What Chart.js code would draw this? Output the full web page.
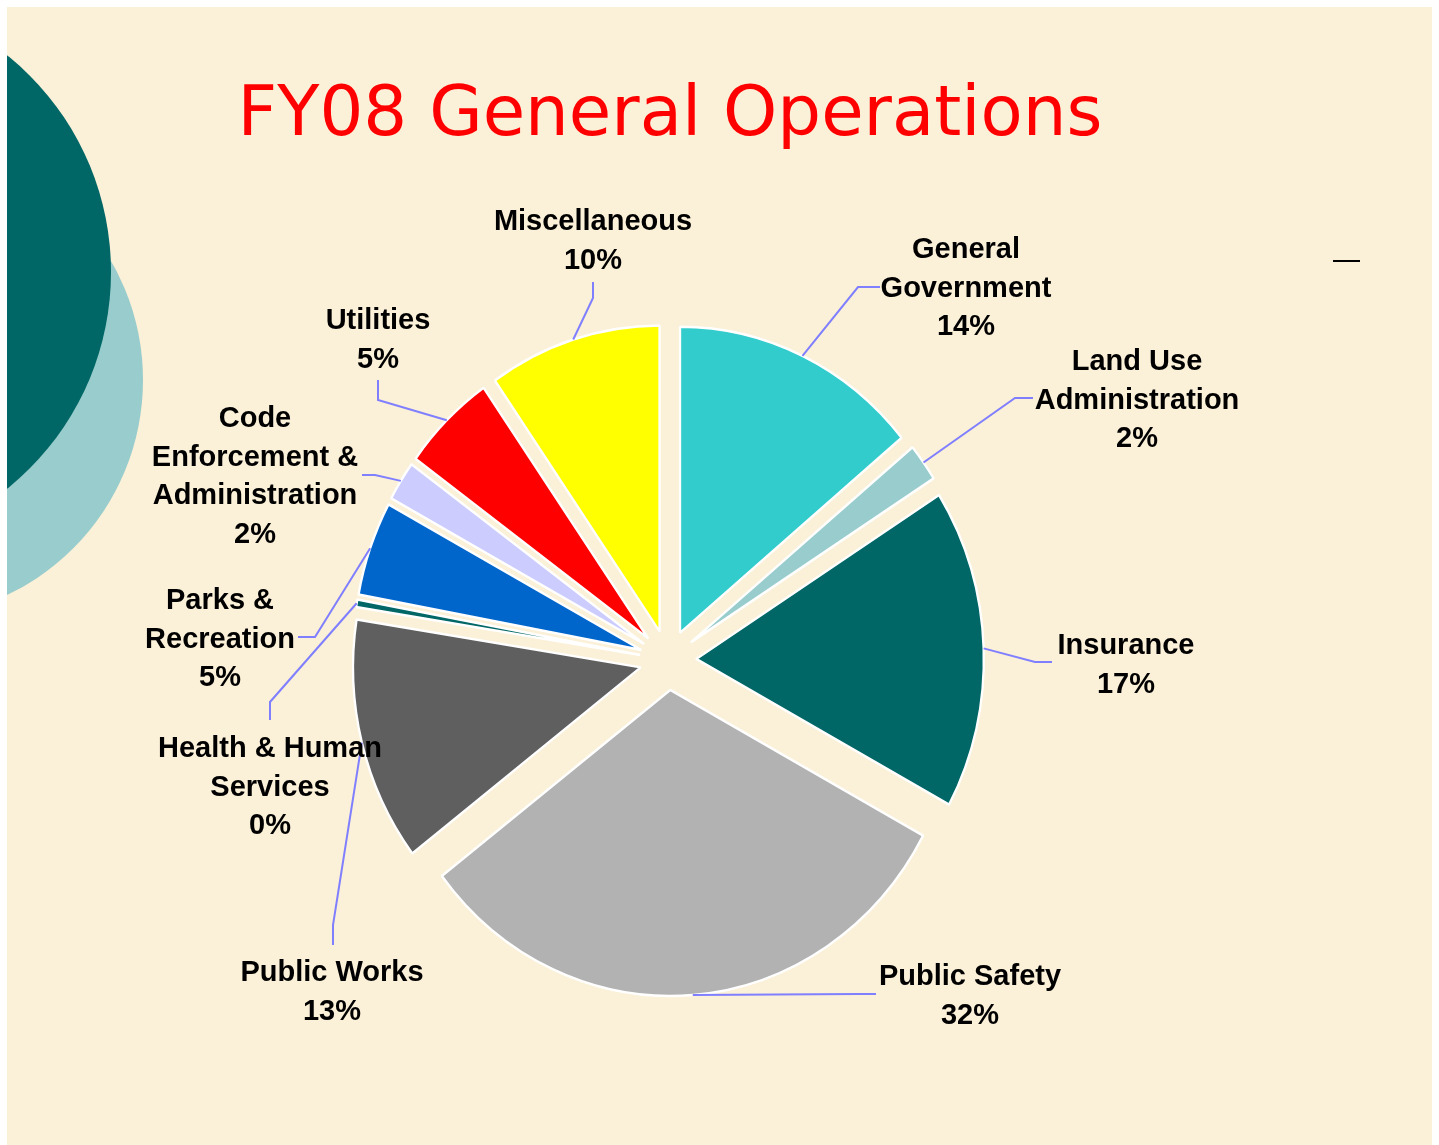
<!DOCTYPE html>
<html>
<head>
<meta charset="utf-8">
<title>FY08 General Operations</title>
<script src="https://cdn.jsdelivr.net/npm/chart.js@4.4.1/dist/chart.umd.min.js"></script>
<style>
  html, body { margin: 0; padding: 0; background: #fff; }
  body { width: 1439px; height: 1145px; position: relative; overflow: hidden; }
  #slide { position: absolute; left: 7px; top: 7px; width: 1425px; height: 1138px; background: #fbf0d8; overflow: hidden; }
  .blob { position: absolute; border-radius: 50%; }
  #lightBlob { background: #99cccc; left: -340px; top: 135px; width: 476px; height: 476px; }
  #darkBlob { background: #006666; left: -452px; top: -13px; width: 556px; height: 556px; }
  #title { position: absolute; left: 0; width: 1340px; top: 77px; text-align: center; font: 69px/69px "DejaVu Sans", Verdana, sans-serif; color: #ff0000; white-space: nowrap; }
  #dash { position: absolute; left: 1333px; top: 260px; width: 27px; height: 2px; background: #000; }
  #chart { position: absolute; left: 0; top: 0; }
</style>
</head>
<body>
<div id="slide">
  <div class="blob" id="lightBlob"></div>
  <div class="blob" id="darkBlob"></div>
</div>
<div id="title">FY08 General Operations</div>
<div id="dash"></div>
<canvas id="chart" width="1439" height="1145"></canvas>
<script>
// slices, clockwise from 12 o'clock
const categories = ['General Government', 'Land Use Administration', 'Insurance', 'Public Safety', 'Public Works',
  'Health & Human Services', 'Parks & Recreation', 'Code Enforcement & Administration', 'Utilities', 'Miscellaneous'];
const shares = [14.0, 2.0, 16.9, 31.7, 12.9, 0.4, 5.0, 2.1, 5.3, 9.7];
const labelLines = [['General', 'Government'], ['Land Use', 'Administration'], ['Insurance'], ['Public Safety'], ['Public Works'],
  ['Health & Human', 'Services'], ['Parks &', 'Recreation'], ['Code', 'Enforcement &', 'Administration'], ['Utilities'], ['Miscellaneous']];
const colors = ['#33cccc', '#99cccc', '#006666', '#b2b2b2', '#5f5f5f', '#006666', '#0066cc', '#ccccff', '#ff0000', '#ffff00'];

// callout layout: text centre x, first line centre y, leader elbow and end
const calloutLayout = [
  { x: 966, y: 248, elbow: [858, 287], end: [880, 287] },
  { x: 1137, y: 360, elbow: [1015, 398], end: [1033, 398] },
  { x: 1126, y: 644, elbow: [1035, 662], end: [1052, 662] },
  { x: 970, y: 975, elbow: [858, 994], end: [876, 994] },
  { x: 332, y: 971, elbow: [333, 925], end: [333, 945] },
  { x: 270, y: 747, elbow: [270, 702], end: [270, 720] },
  { x: 220, y: 599, elbow: [315, 637], end: [298, 637] },
  { x: 255, y: 417, elbow: [375, 475], end: [362, 475] },
  { x: 378, y: 319, elbow: [378, 400], end: [378, 380] },
  { x: 593, y: 220, elbow: [593, 298], end: [593, 282] }
];
const LINE_H = 38.5;
const SQUASH = 0.94;   // pie is a bit narrower than tall
const EXPLODE = 30;

function pieCentre(chart) {
  const a = chart.chartArea;
  return [(a.left + a.right) / 2, (a.top + a.bottom) / 2];
}

const explodePlugin = {
  id: 'explodePie',
  afterDatasetsUpdate(chart) {
    chart.getDatasetMeta(0).data.forEach(arc => {
      const mid = (arc.startAngle + arc.endAngle) / 2;
      arc.x += Math.cos(mid) * EXPLODE;
      arc.y += Math.sin(mid) * EXPLODE;
    });
  },
  beforeDatasetsDraw(chart) {
    const ctx = chart.ctx;
    const [cx, cy] = pieCentre(chart);
    ctx.save();
    ctx.translate(cx, cy);
    ctx.scale(SQUASH, 1);
    ctx.translate(-cx, -cy);
  },
  afterDatasetsDraw(chart) {
    chart.ctx.restore();
  }
};

const calloutPlugin = {
  id: 'callouts',
  afterDraw(chart) {
    const ctx = chart.ctx;
    const [cx] = pieCentre(chart);
    const total = shares.reduce((s, v) => s + v, 0);
    const arcs = chart.getDatasetMeta(0).data;
    ctx.save();
    ctx.lineWidth = 2;
    ctx.strokeStyle = '#7f7fff';
    arcs.forEach((arc, i) => {
      const L = calloutLayout[i];
      const mid = (arc.startAngle + arc.endAngle) / 2;
      const px = cx + (arc.x + Math.cos(mid) * arc.outerRadius - cx) * SQUASH;
      const py = arc.y + Math.sin(mid) * arc.outerRadius;
      ctx.beginPath();
      ctx.moveTo(px, py);
      ctx.lineTo(L.elbow[0], L.elbow[1]);
      ctx.lineTo(L.end[0], L.end[1]);
      ctx.stroke();
    });
    ctx.fillStyle = '#000';
    ctx.font = 'bold 29px "Liberation Sans", Arial, sans-serif';
    ctx.textAlign = 'center';
    ctx.textBaseline = 'alphabetic';
    arcs.forEach((arc, i) => {
      const L = calloutLayout[i];
      const lines = labelLines[i].concat(Math.round(shares[i] / total * 100) + '%');
      lines.forEach((t, k) => ctx.fillText(t, L.x, L.y + k * LINE_H + 10));
    });
    ctx.restore();
  }
};

new Chart(document.getElementById('chart').getContext('2d'), {
  type: 'pie',
  data: {
    labels: categories,
    datasets: [{ data: shares, backgroundColor: colors, borderColor: '#ffffff', borderWidth: 2.5 }]
  },
  options: {
    responsive: false,
    devicePixelRatio: 1,
    animation: false,
    radius: 306,
    layout: { padding: { left: 0, right: 103, top: 175, bottom: 0 } },
    plugins: { legend: { display: false }, tooltip: { enabled: false }, title: { display: false } },
    events: []
  },
  plugins: [explodePlugin, calloutPlugin]
});
</script>
</body>
</html>
